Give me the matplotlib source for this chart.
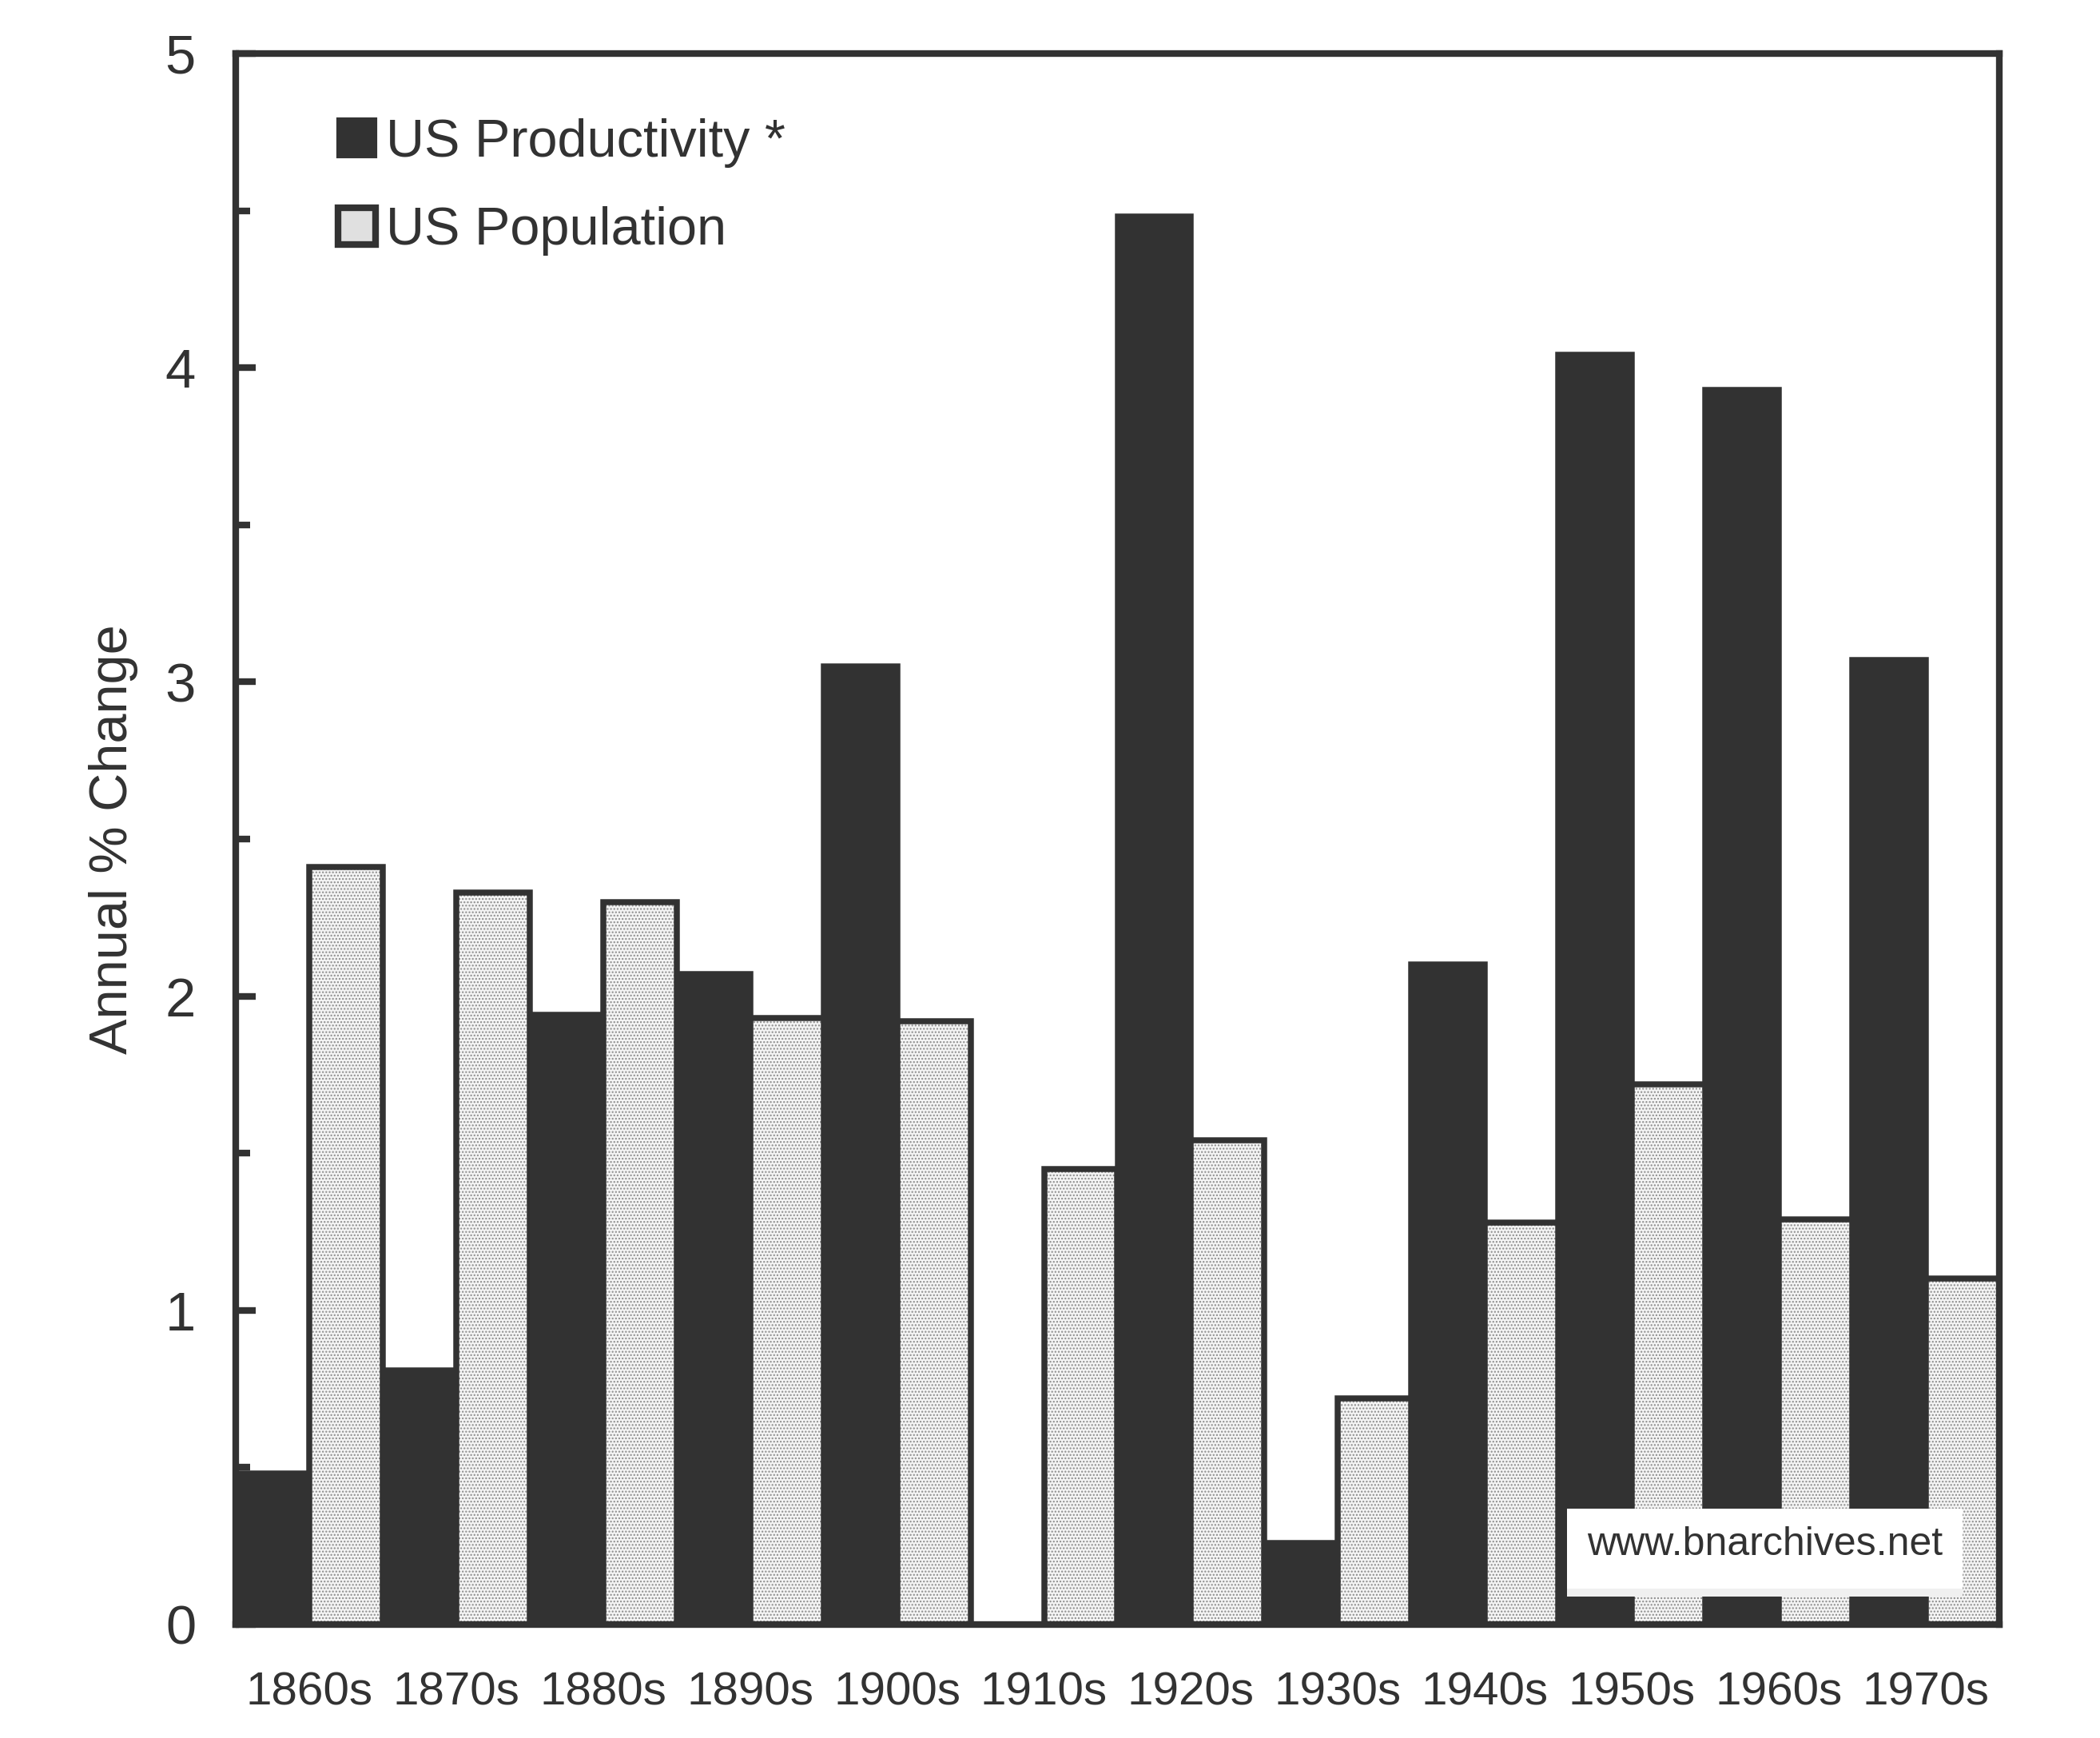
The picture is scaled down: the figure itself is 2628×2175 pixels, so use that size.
import numpy as np
import matplotlib
matplotlib.use("Agg")
import matplotlib.pyplot as plt
from matplotlib.patches import Patch, Rectangle

plt.rcParams['font.family'] = ['Liberation Sans', 'DejaVu Sans']
plt.rcParams['hatch.linewidth'] = 0.35

decades = ["1860s", "1870s", "1880s", "1890s", "1900s", "1910s",
           "1920s", "1930s", "1940s", "1950s", "1960s", "1970s"]
productivity = [0.48, 0.81, 1.94, 2.07, 3.05, 0.0,
                4.48, 0.26, 2.10, 4.04, 3.93, 3.07]
population = [2.41, 2.33, 2.30, 1.93, 1.92, 1.45,
              1.54, 0.72, 1.28, 1.72, 1.29, 1.10]
yticks = [0, 1, 2, 3, 4, 5]
ylabel = "Annual % Change"
legend_labels = ["US Productivity *", "US Population"]
watermark = "www.bnarchives.net"

DARK = '#323232'
LIGHT = '#e0e0e0'
DOT = '#8c8c8c'
W, H = 2628, 2175
dpi = 300
fig = plt.figure(figsize=(W / dpi, H / dpi), dpi=dpi)
ax = fig.add_axes([295 / W, 1 - 2033 / H, (2502 - 295) / W, (2033 - 67) / H])

idx = np.arange(len(decades))
ax.bar(idx, productivity, width=0.5, align='edge', color=DARK,
       edgecolor=DARK, linewidth=1.8, zorder=2)
# dotted fill of population bars
ax.bar(idx + 0.5, population, width=0.5, align='edge', color='#f4f4f4',
       edgecolor=DOT, hatch='.' * 12, linewidth=0, zorder=2)
# outline of population bars
ax.bar(idx + 0.5, population, width=0.5, align='edge', color='none',
       edgecolor=DARK, linewidth=1.8, zorder=3)

ax.set_xlim(0, len(decades))
ax.set_ylim(0, 5)
ax.set_xticks(idx + 0.5)
ax.set_xticklabels(decades)
ax.set_yticks(yticks)
ax.set_yticks(np.arange(0.5, 5, 1.0), minor=True)

for s in ax.spines.values():
    s.set_color(DARK)
    s.set_linewidth(2.0)
    s.set_zorder(5)

ax.tick_params(axis='x', length=0, pad=14, labelsize=14, colors=DARK)
ax.tick_params(axis='y', which='major', direction='in', length=6, width=2,
               pad=12, labelsize=16.5, colors=DARK)
ax.tick_params(axis='y', which='minor', direction='in', length=4.3, width=2,
               colors=DARK)
ax.set_ylabel(ylabel, fontsize=16, color=DARK, labelpad=8)

handles = [Patch(facecolor=DARK, edgecolor=DARK, linewidth=1.0),
           Patch(facecolor=LIGHT, edgecolor=DARK, linewidth=2.0)]
leg = ax.legend(handles, legend_labels, loc='upper left',
                bbox_to_anchor=(0.058, 0.959), frameon=False, fontsize=16,
                handlelength=0.70, handleheight=0.70, handletextpad=0.2,
                labelspacing=0.73, borderpad=0, borderaxespad=0)
for t in leg.get_texts():
    t.set_color(DARK)

# watermark box
ax.add_patch(Rectangle((0.755, 0.018), 0.224, 0.056, transform=ax.transAxes,
                       facecolor='white', edgecolor='none', zorder=6))
ax.add_patch(Rectangle((0.755, 0.018), 0.224, 0.005, transform=ax.transAxes,
                       facecolor='#f0f0f0', edgecolor='none', zorder=6))
ax.text(0.867, 0.051, watermark, transform=ax.transAxes, ha='center',
        va='center', fontsize=12, color=DARK, zorder=7)

fig.savefig("out.png", dpi=dpi, facecolor='white')
